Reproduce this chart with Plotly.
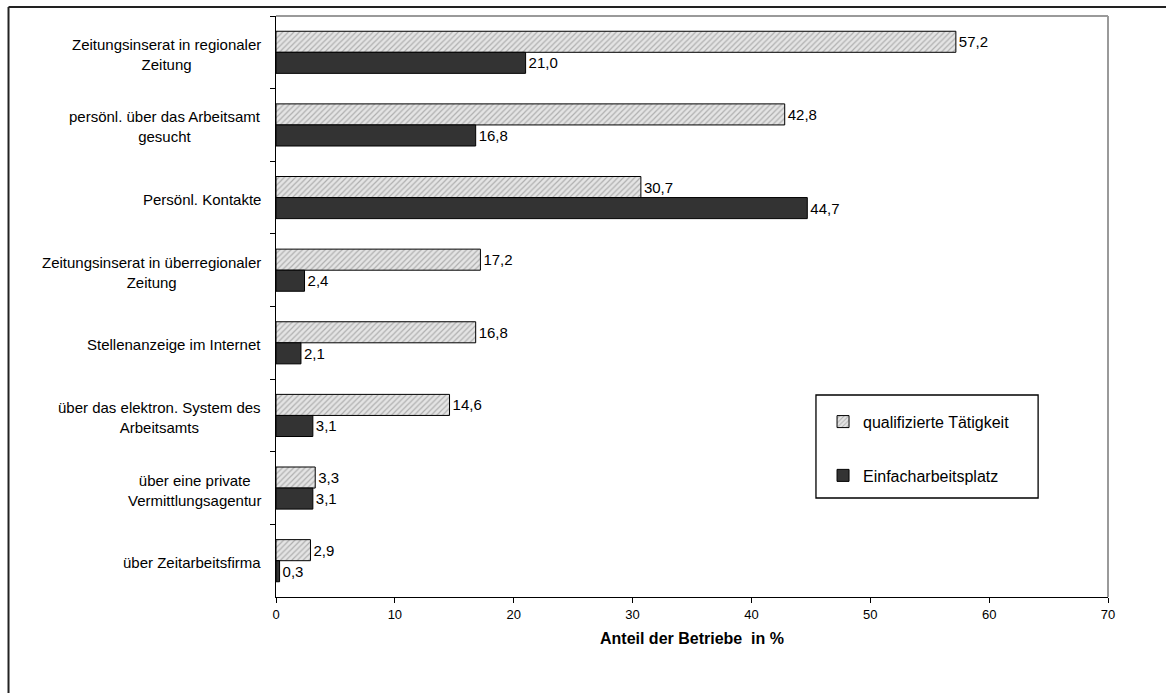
import plotly.graph_objects as go

# Rekrutierungswege, von oben nach unten
kategorien = [
    "Zeitungsinserat in regionaler<br>Zeitung",
    "persönl. über das Arbeitsamt<br>gesucht",
    "Persönl. Kontakte",
    "Zeitungsinserat in überregionaler<br>Zeitung",
    "Stellenanzeige im Internet",
    "über das elektron. System des<br>Arbeitsamts",
    "über eine private<br>Vermittlungsagentur",
    "über Zeitarbeitsfirma",
]
qualifiziert = [57.2, 42.8, 30.7, 17.2, 16.8, 14.6, 3.3, 2.9]
einfach = [21.0, 16.8, 44.7, 2.4, 2.1, 3.1, 3.1, 0.3]
x_ticks = [0, 10, 20, 30, 40, 50, 60, 70]

FONT = "Liberation Sans, Arial, sans-serif"

fig = go.Figure()
fig.add_trace(go.Bar(
    y=kategorien, x=qualifiziert, orientation="h",
    name="qualifizierte Tätigkeit", legendgroup="q",
    marker=dict(
        color="#e4e4e4",
        line=dict(color="#000000", width=1),
        pattern=dict(shape="/", fgcolor="#7a7a7a", bgcolor="#e4e4e4",
                     size=4, solidity=0.3),
    ),
    texttemplate="%{x:.1f}", textposition="outside", constraintext="none",
    textfont=dict(size=15, color="#000000", family=FONT),
    cliponaxis=False,
))
fig.add_trace(go.Bar(
    y=kategorien, x=einfach, orientation="h",
    name="Einfacharbeitsplatz", legendgroup="e",
    marker=dict(color="#333333", line=dict(color="#000000", width=1)),
    texttemplate="%{x:.1f}", textposition="outside", constraintext="none",
    textfont=dict(size=15, color="#000000", family=FONT),
    cliponaxis=False,
))

# Kategorienbeschriftung, mehrzeilig zentriert
for k in kategorien:
    fig.add_annotation(
        x=0, xref="paper", y=k, yref="y", text=k, showarrow=False,
        xanchor="right", yanchor="middle", align="center", xshift=-13,
        yshift=-2,
        font=dict(size=15, color="#000000", family=FONT),
    )

shapes = [
    # Diagrammrahmen oben und rechts
    dict(type="line", xref="paper", yref="paper", x0=0, x1=1, y0=1, y1=1,
         line=dict(color="#9a9a9a", width=2)),
    dict(type="line", xref="paper", yref="paper", x0=1, x1=1, y0=0, y1=1,
         line=dict(color="#9a9a9a", width=2)),
    # Legendenrahmen
    dict(type="rect", xref="paper", yref="paper", x0=0.649, x1=0.916,
         y0=0.1704, y1=0.3477, line=dict(color="#000000", width=1.3)),
    # Außenrahmen, oben und links
    dict(type="line", xref="paper", yref="paper", x0=-0.3215, x1=1.2,
         y0=1.0155, y1=1.0155, line=dict(color="#222222", width=2)),
    dict(type="line", xref="paper", yref="paper", x0=-0.3215, x1=-0.3215,
         y0=-0.3, y1=1.0155, line=dict(color="#222222", width=2)),
]

fig.update_layout(
    width=1166, height=693,
    margin=dict(l=276, r=58, t=16, b=96),
    paper_bgcolor="#ffffff", plot_bgcolor="#ffffff",
    font=dict(family=FONT, color="#000000"),
    separators=",.",
    barmode="group", bargap=0.42, bargroupgap=0.0,
    shapes=shapes,
    showlegend=True,
    legend=dict(
        x=0.6575, y=0.331, xanchor="left", yanchor="top",
        bgcolor="rgba(0,0,0,0)", borderwidth=0,
        font=dict(size=16, family=FONT, color="#000000"),
        traceorder="grouped", tracegroupgap=30,
    ),
    xaxis=dict(
        range=[0, 70], tickvals=x_ticks, showgrid=False, zeroline=False,
        showline=True, linecolor="#000000", linewidth=1.3,
        ticks="outside", ticklen=5, tickcolor="#000000",
        tickfont=dict(size=13, family=FONT),
        title=dict(text="<b>Anteil der Betriebe  in %</b>", standoff=12,
                   font=dict(size=16, family=FONT)),
    ),
    yaxis=dict(
        type="category", categoryorder="array", categoryarray=kategorien,
        autorange="reversed", showgrid=False, zeroline=False,
        showline=True, linecolor="#000000", linewidth=1.3,
        ticks="outside", ticklen=5, tickcolor="#000000", tickson="boundaries",
        showticklabels=False,
    ),
)

fig.write_html("out.html")
